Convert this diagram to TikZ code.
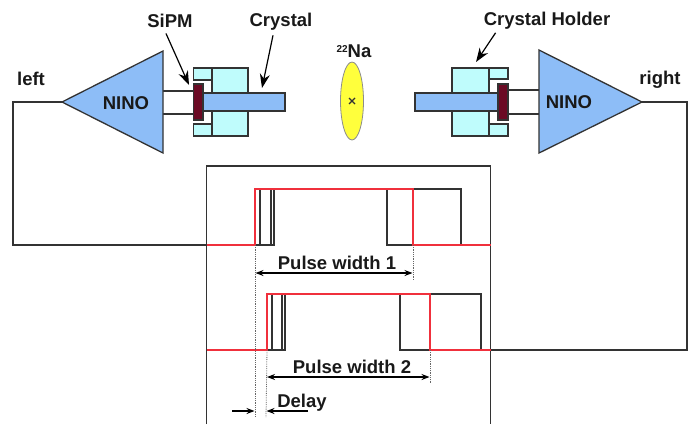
\documentclass[tikz,border=0pt]{standalone}
\usepackage{fontspec}
\setmainfont{Liberation Sans}
\usepackage{tikz}
\usetikzlibrary{positioning}
\usetikzlibrary{calc}
\usetikzlibrary{arrows.meta}
\usetikzlibrary{shapes.geometric}
\definecolor{ninoblue}{HTML}{8DBDF7}
\definecolor{holdercyan}{HTML}{BFFCFC}
\definecolor{sipmred}{HTML}{6B0A24}
\definecolor{sourceyellow}{HTML}{FFFF3C}
\definecolor{wiregray}{HTML}{333333}
\definecolor{pulsered}{HTML}{F0303C}
\tikzset{%
  lab/.style = {font=\bfseries\fontsize{18.5}{22}\selectfont,text=black!90,inner sep=0pt},
  wire/.style = {draw=wiregray,line width=1.3pt},
  redpulse/.style = {draw=pulsered,line width=1.4pt},
  guide/.style = {draw=black!60,densely dotted,line width=0.8pt},
  pointer/.style = {-{Stealth[length=14pt,width=10pt]},draw=black,line width=1.2pt},
  span/.style = {{Stealth[length=8pt,width=6pt]}-{Stealth[length=8pt,width=6pt]},draw=black,line width=1.2pt},
  tiparrow/.style = {-{Stealth[length=8pt,width=6pt]},draw=black,line width=1.2pt},
  nino/.style = {wire,fill=ninoblue},
  holder/.style = {wire,fill=holdercyan},
  sipm/.style = {wire,fill=sipmred},
  crystal/.style = {wire,fill=ninoblue},
  sourceshape/.style = {ellipse,draw=black!45,line width=0.8pt,fill=sourceyellow,
        minimum width=23pt,minimum height=78pt,inner sep=0pt}
}
\begin{document}
\begin{tikzpicture}[x=1pt,y=-1pt]
    \useasboundingbox (0,0) rectangle (692,424);
    % left readout
    \coordinate (ninoLtip) at (62,102);
    \coordinate (ninoLa) at (163,51);
    \coordinate (ninoLb) at (163,153);
    \coordinate (sipmLa) at (193.5,91);
    \coordinate (sipmLb) at (193.5,114);
    \draw[wire] (ninoLa |- sipmLa) -- (sipmLa);
    \draw[wire] (ninoLa |- sipmLb) -- (sipmLb);
    \draw[holder] (212,68) rectangle (248,136);
    \draw[holder] (193.5,68) rectangle (212,80);
    \draw[holder] (193.5,124) rectangle (212,136);
    \draw[crystal] (203,93) rectangle (285,111);
    \draw[sipm] (193.5,84) rectangle (203,120);
    \draw[nino] (ninoLtip) -- (ninoLa) -- (ninoLb) -- cycle;
    \node[lab] (ninoL) at (126,103) {NINO};
    \node[lab] (left) at (31,78.5) {left};
    \node[lab] (sipmlab) at (170,20.5) {SiPM};
    \node[lab] (crystallab) at (281,21.5) {Crystal};
    \coordinate (sipmtip) at (189,85);
    \coordinate (crystaltip) at (262,88);
    \draw[pointer] ($(sipmlab.south)+(-4,6)$) -- (sipmtip);
    \draw[pointer] ($(crystallab.south)+(-8,5)$) -- (crystaltip);
    % right readout
    \coordinate (ninoRtip) at (642,102);
    \coordinate (ninoRa) at (539,50);
    \coordinate (ninoRb) at (539,153);
    \coordinate (sipmRa) at (508,90);
    \coordinate (sipmRb) at (508,114);
    \draw[wire] (sipmRa) -- (ninoRa |- sipmRa);
    \draw[wire] (sipmRb) -- (ninoRa |- sipmRb);
    \draw[holder] (452,68) rectangle (489,136);
    \draw[holder] (489,68) rectangle (508,79);
    \draw[holder] (489,124) rectangle (508,136);
    \draw[crystal] (415,93) rectangle (498,111);
    \draw[sipm] (498,84) rectangle (508,120);
    \draw[nino] (ninoRtip) -- (ninoRa) -- (ninoRb) -- cycle;
    \node[lab] (ninoR) at (569,102) {NINO};
    \node[lab] (right) at (660,79.5) {right};
    \node[lab] (holderlab) at (547,21) {Crystal Holder};
    \coordinate (holdertip) at (476,62);
    \draw[pointer] ($(holderlab.south west)+(12,3)$) -- (holdertip);
    % source
    \node[sourceshape] (source) at (352,101) {};
    \draw[line width=1.3pt,black!80] ($(source)+(-3,-3)$) -- ($(source)+(3,3)$);
    \draw[line width=1.3pt,black!80] ($(source)+(-3,3)$) -- ($(source)+(3,-3)$);
    \node[lab] (na) at (354,51.5) {\raisebox{0.55ex}{\fontsize{10}{10}\selectfont 22}Na};
    % scope box
    \coordinate (boxtl) at (206.5,166);
    \coordinate (boxtr) at (490.5,166);
    \coordinate (boxbl) at (206.5,424);
    \coordinate (boxbr) at (490.5,424);
    \draw[wire] (boxbl) -- (boxtl) -- (boxtr) -- (boxbr);
    \coordinate (inL) at (206.5,245);
    \coordinate (inR) at (490.5,350);
    \draw[wire] (ninoLtip) -| (13,245) -- (inL);
    \draw[wire] (ninoRtip) -| (687,350) -- (inR);
    % pulses
    \coordinate (up1) at (255,245);
    \coordinate (down1) at (413,245);
    \coordinate (up2) at (267,350);
    \coordinate (down2) at (430,350);
    \draw[wire] (up1) -- (274,245) -- (274,189) -- (271,189) -- (271,245) (260,245) -- (260,189);
    \draw[wire] (255,189) -- (461,189) -- (461,245) -- (413,245) (387,189) -- (387,245) -- (413,245);
    \draw[wire] (up2) -- (285,350) -- (285,294) -- (282,294) -- (282,350) (272,350) -- (272,294);
    \draw[wire] (267,294) -- (481,294) -- (481,350) -- (430,350) (400,294) -- (400,350) -- (430,350);
    \draw[redpulse] (inL) -- (up1) -- (255,189) -- (413,189) -- (down1) -- (490.5,245);
    \draw[redpulse] (206.5,350) -- (up2) -- (267,294) -- (430,294) -- (down2) -- (inR);
    % markers
    \coordinate (g1) at (255,417);
    \coordinate (g2) at (413,280);
    \coordinate (g3) at (266,417);
    \coordinate (g4) at (430,383);
    \draw[guide] (up1) -- (g1);
    \draw[guide] (down1) -- (g2);
    \draw[guide] (up2) -- (g3);
    \draw[guide] (down2) -- (g4);
    \node[lab] (pw1) at (337,263) {Pulse width 1};
    \node[lab] (pw2) at (352,367) {Pulse width 2};
    \node[lab] (delay) at (302,403) {Delay};
    \draw[span] (255.5,273) -- (412.5,273);
    \draw[span] (267,377) -- (429.5,377);
    \coordinate (d1) at (232,411);
    \coordinate (d2) at (254.5,411);
    \coordinate (d3) at (308,411);
    \coordinate (d4) at (266.5,411);
    \draw[tiparrow] (d1) -- (d2);
    \draw[tiparrow] (d3) -- (d4);
\end{tikzpicture}
\end{document}
